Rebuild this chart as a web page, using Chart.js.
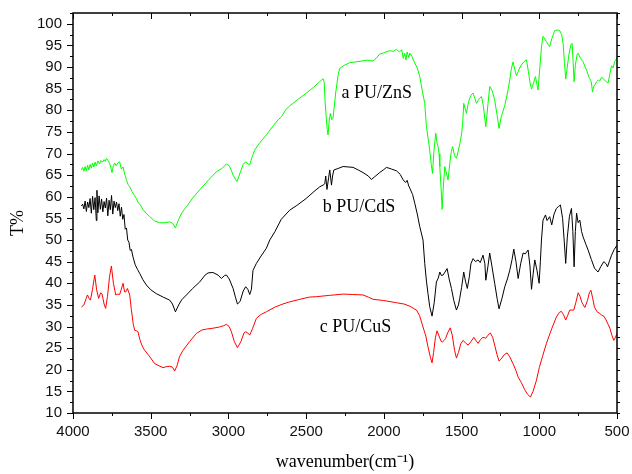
<!DOCTYPE html>
<html>
<head>
<meta charset="utf-8">
<script src="https://cdn.jsdelivr.net/npm/chart.js@4"></script>
<style>
  body { margin: 0; background: #fff; }
  #wrap { width: 632px; height: 474px; }
</style>
</head>
<body>
<div id="wrap"><canvas id="ir-chart" width="632" height="474"></canvas></div>
<script>
// wavenumber (cm-1) and T% for each sample
const znsWave = [3946, 3938, 3930, 3922, 3914, 3906, 3898, 3890, 3882, 3874, 3866, 3858, 3850, 3840, 3830, 3820, 3810, 3800, 3792, 3785, 3775, 3765, 3757, 3749, 3742, 3732, 3722, 3710, 3700, 3689, 3678, 3667, 3655, 3645, 3635, 3620, 3605, 3592, 3580, 3570, 3549, 3530, 3506, 3475, 3442, 3410, 3378, 3360, 3341, 3320, 3300, 3270, 3230, 3185, 3130, 3077, 3040, 3013, 2995, 2980, 2970, 2945, 2925, 2905, 2889, 2875, 2863, 2845, 2831, 2800, 2756, 2710, 2680, 2659, 2630, 2606, 2550, 2498, 2450, 2413, 2391, 2384, 2378, 2370, 2364, 2359, 2352, 2344, 2336, 2327, 2310, 2295, 2284, 2250, 2220, 2160, 2110, 2091, 2070, 2050, 2027, 2000, 1962, 1940, 1919, 1900, 1885, 1875, 1866, 1858, 1850, 1840, 1833, 1820, 1801, 1785, 1769, 1760, 1750, 1737, 1726, 1715, 1705, 1695, 1687, 1678, 1666, 1658, 1651, 1645, 1640, 1632, 1625, 1618, 1608, 1598, 1587, 1575, 1566, 1558, 1545, 1533, 1520, 1510, 1500, 1493, 1486, 1478, 1469, 1455, 1440, 1426, 1415, 1404, 1390, 1372, 1360, 1344, 1330, 1319, 1303, 1287, 1272, 1259, 1245, 1222, 1205, 1190, 1180, 1169, 1158, 1147, 1130, 1115, 1100, 1083, 1070, 1060, 1050, 1035, 1025, 1015, 1008, 995, 985, 976, 965, 954, 943, 933, 920, 901, 885, 868, 856, 847, 838, 830, 820, 808, 796, 789, 782, 776, 768, 756, 750, 735, 718, 705, 696, 680, 668, 664, 658, 650, 640, 632, 620, 610, 600, 590, 575, 557, 548, 540, 535, 525, 515, 500];
const znsT = [66.2, 66.8, 65.9, 67.0, 66.0, 67.3, 66.2, 67.5, 66.6, 67.8, 66.9, 68.0, 67.2, 68.3, 67.6, 68.4, 68.0, 68.6, 68.2, 68.9, 68.4, 67.8, 66.8, 65.6, 66.9, 67.8, 67.2, 67.9, 68.1, 66.4, 66.9, 65.2, 63.8, 62.8, 62.3, 61.2, 60.3, 59.6, 58.6, 58.3, 57.0, 56.2, 55.4, 54.4, 54.0, 54.0, 54.2, 53.9, 52.8, 54.8, 56.3, 57.7, 59.7, 61.6, 63.8, 65.8, 66.6, 67.6, 67.2, 66.0, 65.0, 63.5, 65.5, 67.5, 68.1, 67.6, 67.4, 69.5, 70.8, 72.4, 74.3, 76.5, 77.8, 78.5, 80.2, 81.0, 82.6, 84.0, 85.4, 86.6, 87.3, 86.5, 82.0, 78.0, 75.5, 74.3, 77.5, 79.3, 77.8, 78.2, 84.0, 88.0, 89.7, 90.5, 91.0, 91.3, 91.6, 91.5, 91.4, 92.0, 93.0, 93.3, 93.8, 93.6, 94.1, 93.5, 94.0, 92.0, 93.2, 91.6, 93.5, 92.2, 93.2, 92.5, 90.9, 89.8, 87.8, 86.0, 84.0, 81.6, 76.2, 73.5, 70.8, 67.5, 65.4, 70.5, 74.7, 72.5, 71.6, 70.0, 67.0, 62.0, 57.1, 62.0, 67.0, 65.5, 63.9, 68.0, 70.5, 71.6, 69.5, 68.9, 70.8, 72.5, 74.5, 77.0, 81.6, 80.5, 79.3, 82.0, 83.5, 84.0, 82.8, 81.6, 82.5, 83.2, 81.0, 76.2, 81.5, 85.5, 84.5, 82.4, 79.0, 75.8, 78.5, 81.1, 84.0, 87.0, 89.5, 91.2, 89.5, 88.0, 89.5, 90.5, 91.2, 91.7, 89.0, 86.5, 84.9, 86.5, 87.8, 86.0, 84.7, 90.5, 95.0, 97.1, 96.5, 95.9, 95.2, 94.7, 96.5, 98.4, 98.6, 98.4, 97.5, 95.5, 91.0, 87.2, 90.0, 93.2, 95.2, 95.5, 91.0, 86.6, 90.5, 93.0, 93.2, 92.0, 91.2, 90.0, 89.3, 87.6, 86.8, 86.3, 84.2, 85.5, 86.0, 86.6, 87.0, 86.8, 87.6, 87.4, 86.8, 86.3, 88.0, 89.5, 90.3, 89.8, 91.3, 92.1];

const cdsWave = [3946, 3938, 3930, 3922, 3914, 3906, 3898, 3890, 3882, 3874, 3866, 3858, 3850, 3846, 3840, 3832, 3824, 3816, 3808, 3800, 3792, 3784, 3776, 3768, 3760, 3752, 3744, 3736, 3728, 3720, 3712, 3704, 3696, 3688, 3680, 3672, 3664, 3656, 3648, 3640, 3632, 3624, 3614, 3600, 3585, 3571, 3550, 3528, 3500, 3464, 3420, 3378, 3360, 3341, 3320, 3300, 3270, 3230, 3185, 3150, 3131, 3100, 3067, 3045, 3025, 3013, 2995, 2970, 2955, 2942, 2925, 2905, 2889, 2875, 2863, 2852, 2842, 2820, 2790, 2756, 2734, 2700, 2660, 2606, 2560, 2500, 2450, 2413, 2391, 2380, 2374, 2366, 2355, 2348, 2337, 2330, 2322, 2290, 2262, 2230, 2198, 2165, 2134, 2100, 2080, 2060, 2027, 2000, 1983, 1950, 1919, 1895, 1876, 1860, 1850, 1840, 1833, 1815, 1801, 1785, 1769, 1748, 1737, 1726, 1716, 1705, 1690, 1676, 1662, 1650, 1640, 1630, 1619, 1610, 1593, 1580, 1565, 1550, 1533, 1520, 1512, 1500, 1486, 1475, 1463, 1450, 1440, 1426, 1410, 1394, 1380, 1362, 1350, 1344, 1330, 1319, 1305, 1287, 1270, 1259, 1240, 1222, 1205, 1190, 1175, 1164, 1150, 1136, 1120, 1104, 1090, 1072, 1060, 1050, 1040, 1029, 1015, 1001, 993, 986, 976, 960, 950, 933, 920, 905, 890, 875, 864, 850, 840, 830, 820, 806, 793, 784, 776, 768, 760, 750, 739, 728, 718, 700, 686, 665, 645, 622, 605, 585, 570, 561, 548, 535, 518, 500];
const cdsT = [57.9, 58.3, 57.2, 59.0, 56.6, 58.8, 57.5, 59.6, 56.2, 60.1, 57.0, 59.8, 54.5, 61.5, 56.3, 60.2, 57.1, 59.5, 56.5, 58.9, 57.4, 59.7, 55.6, 59.2, 57.0, 60.3, 56.0, 59.0, 57.5, 58.8, 56.8, 58.4, 55.5, 57.6, 54.8, 55.9, 52.5, 52.8, 50.0, 49.5, 47.6, 47.8, 46.1, 44.3, 43.2, 42.3, 40.8, 39.6, 38.5, 37.6, 36.8, 36.1, 35.2, 33.4, 35.0, 36.2, 37.3, 38.8, 40.3, 41.9, 42.4, 42.5, 41.9, 41.1, 41.8, 41.9, 41.0, 38.8, 36.8, 35.2, 35.8, 38.2, 39.2, 38.6, 37.4, 38.6, 43.0, 44.6, 46.3, 48.1, 50.0, 52.0, 54.8, 56.9, 58.0, 59.6, 61.2, 62.3, 62.7, 63.0, 64.8, 61.7, 64.5, 66.2, 62.7, 64.8, 66.2, 66.6, 67.0, 66.9, 66.8, 66.2, 65.6, 64.8, 64.0, 64.6, 65.6, 66.3, 66.8, 66.4, 66.0, 65.2, 63.9, 63.3, 63.8, 62.5, 62.0, 60.5, 58.5, 56.0, 53.1, 50.0, 44.6, 40.5, 37.6, 34.6, 32.4, 35.5, 40.3, 41.2, 42.6, 41.8, 41.9, 42.4, 43.4, 41.0, 38.8, 36.0, 33.8, 35.0, 36.5, 39.0, 42.6, 40.5, 38.8, 41.5, 44.5, 45.7, 45.0, 45.4, 44.8, 46.5, 44.5, 40.7, 44.0, 47.0, 44.0, 40.0, 36.2, 34.1, 36.5, 39.2, 41.0, 43.0, 45.5, 47.9, 45.0, 41.1, 44.5, 47.0, 46.8, 47.7, 44.0, 38.6, 42.0, 45.4, 43.0, 40.0, 45.0, 50.0, 54.6, 55.8, 54.5, 55.4, 53.5, 56.0, 57.3, 57.8, 58.1, 55.0, 50.0, 44.6, 50.5, 55.5, 57.3, 52.0, 43.8, 52.0, 56.2, 54.0, 54.6, 52.0, 50.7, 49.0, 47.7, 45.5, 43.5, 42.6, 43.8, 45.0, 44.5, 43.8, 45.2, 46.5, 47.8, 48.8];

const cusWave = [3946, 3930, 3915, 3907, 3895, 3888, 3875, 3860, 3848, 3835, 3822, 3813, 3800, 3790, 3778, 3765, 3753, 3740, 3725, 3712, 3700, 3690, 3678, 3668, 3661, 3650, 3635, 3625, 3612, 3603, 3590, 3582, 3570, 3555, 3539, 3510, 3474, 3440, 3421, 3400, 3378, 3360, 3346, 3330, 3315, 3292, 3250, 3206, 3170, 3142, 3100, 3056, 3030, 3013, 2995, 2981, 2962, 2942, 2920, 2900, 2889, 2875, 2863, 2845, 2820, 2790, 2756, 2700, 2650, 2606, 2550, 2480, 2434, 2350, 2262, 2200, 2134, 2100, 2070, 2000, 1919, 1870, 1833, 1800, 1790, 1770, 1748, 1730, 1716, 1700, 1690, 1680, 1668, 1658, 1645, 1632, 1624, 1612, 1603, 1590, 1573, 1560, 1545, 1533, 1520, 1505, 1490, 1475, 1458, 1440, 1421, 1408, 1394, 1378, 1362, 1344, 1330, 1315, 1300, 1287, 1272, 1259, 1245, 1225, 1207, 1190, 1169, 1150, 1136, 1115, 1094, 1075, 1057, 1040, 1018, 1000, 980, 954, 920, 890, 870, 858, 845, 830, 818, 804, 790, 778, 765, 750, 738, 725, 707, 690, 678, 668, 658, 645, 628, 610, 598, 585, 570, 557, 545, 533, 521, 510, 500];
const cusT = [34.5, 35.0, 36.5, 37.3, 36.4, 36.1, 38.5, 41.9, 38.5, 36.5, 37.8, 37.5, 35.2, 34.2, 37.0, 41.5, 44.0, 40.0, 37.3, 37.5, 37.4, 38.5, 40.0, 38.0, 38.0, 38.8, 37.3, 34.0, 30.5, 29.1, 29.0, 28.8, 27.0, 25.5, 24.5, 23.2, 21.4, 20.8, 20.5, 20.7, 20.8, 20.6, 19.7, 21.0, 23.0, 24.5, 26.5, 28.4, 29.2, 29.4, 29.6, 29.9, 30.2, 30.5, 30.0, 28.8, 26.5, 25.1, 26.5, 28.5, 28.8, 28.5, 28.0, 29.5, 31.9, 32.8, 33.4, 34.5, 35.2, 35.7, 36.2, 36.8, 36.9, 37.2, 37.5, 37.4, 37.3, 36.8, 36.3, 36.0, 35.5, 35.2, 34.7, 34.0, 33.8, 32.5, 29.9, 27.8, 25.3, 22.8, 21.6, 24.0, 27.5, 29.0, 27.8, 26.6, 26.4, 26.8, 27.2, 28.5, 29.7, 28.0, 24.5, 22.7, 24.0, 26.0, 26.8, 26.2, 25.7, 26.5, 27.5, 26.8, 26.1, 27.0, 27.5, 27.3, 28.0, 28.5, 27.5, 25.7, 23.5, 22.0, 22.5, 23.5, 23.9, 23.0, 21.4, 19.8, 18.3, 17.0, 15.4, 14.3, 13.7, 15.0, 17.6, 20.5, 23.0, 26.1, 29.5, 32.2, 33.3, 33.5, 32.8, 31.5, 32.5, 33.8, 33.8, 33.8, 35.5, 37.8, 37.0, 35.5, 34.4, 36.0, 37.8, 38.4, 36.8, 34.5, 33.4, 33.0, 32.6, 32.4, 31.5, 30.5, 29.5, 28.0, 26.8, 27.5, 28.4];

// tick labels
const xTicks = [4000, 3500, 3000, 2500, 2000, 1500, 1000, 500];
const yTicks = [10, 15, 20, 25, 30, 35, 40, 45, 50, 55, 60, 65, 70, 75, 80, 85, 90, 95, 100];

// curve labels: text, wavenumber of left edge, T% of text middle
const labelText = ["a PU/ZnS", "b PU/CdS", "c PU/CuS"];
const labelWave = [2273, 2393, 2413];
const labelT = [84.0, 57.6, 29.8];

const toPoints = (xs, ys) => xs.map((v, i) => ({ x: v, y: ys[i] }));

// frame + Origin style ticks (minor ticks too), curve labels, y title
const frameTicks = {
  id: "frameTicks",
  afterDraw(chart) {
    const { ctx, chartArea: a, scales } = chart;
    const x = scales.x, y = scales.y;
    ctx.save();
    ctx.strokeStyle = "#000";
    ctx.lineWidth = 1;
    ctx.beginPath();
    for (let v = 500; v <= 4000; v += 250) {
      const px = Math.round(x.getPixelForValue(v)) + 0.5;
      const len = v % 500 === 0 ? 6 : 3;
      ctx.moveTo(px, a.bottom); ctx.lineTo(px, a.bottom + len);
      ctx.moveTo(px, a.top); ctx.lineTo(px, a.top + len);
    }
    for (let v = 10; v <= 102.5; v += 2.5) {
      const py = Math.round(y.getPixelForValue(v)) + 0.5;
      const len = v % 5 === 0 ? 6 : 3;
      ctx.moveTo(a.left, py); ctx.lineTo(a.left - len, py);
      ctx.moveTo(a.right, py); ctx.lineTo(a.right + 3, py);
    }
    ctx.stroke();
    ctx.lineWidth = 1.5;
    ctx.strokeRect(a.left, a.top, a.right - a.left, a.bottom - a.top);

    ctx.fillStyle = "#000";
    ctx.font = "18px 'Liberation Serif'";
    ctx.textAlign = "left";
    ctx.textBaseline = "middle";
    labelText.forEach((t, i) => {
      ctx.fillText(t, x.getPixelForValue(labelWave[i]), y.getPixelForValue(labelT[i]));
    });

    // y title sits a bit below the axis middle in the original
    ctx.translate(18, (a.top + a.bottom) / 2 + 10);
    ctx.rotate(-Math.PI / 2);
    ctx.textAlign = "center";
    ctx.fillText("T%", 0, 0);
    ctx.restore();
  }
};

const tickFont = { family: "'Liberation Sans'", size: 15 };

new Chart(document.getElementById("ir-chart"), {
  type: "line",
  data: {
    datasets: [
      { label: "a PU/ZnS", data: toPoints(znsWave, znsT), borderColor: "#00ff00" },
      { label: "b PU/CdS", data: toPoints(cdsWave, cdsT), borderColor: "#000000" },
      { label: "c PU/CuS", data: toPoints(cusWave, cusT), borderColor: "#ff0000" }
    ]
  },
  options: {
    responsive: false,
    animation: false,
    devicePixelRatio: 1,
    layout: { padding: { top: 13, right: 15, left: 0, bottom: 0 } },
    elements: {
      line: { borderWidth: 1, tension: 0 },
      point: { radius: 0 }
    },
    plugins: {
      legend: { display: false },
      tooltip: { enabled: false }
    },
    scales: {
      x: {
        type: "linear",
        reverse: true,
        min: 500,
        max: 4000,
        grid: { display: false, drawTicks: false },
        border: { display: false },
        afterBuildTicks(s) { s.ticks = xTicks.map(v => ({ value: v })); },
        ticks: { color: "#111", font: tickFont, padding: 10, maxRotation: 0, autoSkip: false,
                 callback: v => String(v) },
        title: {
          display: true,
          text: "wavenumber(cm\u207B\u00B9)",
          color: "#000",
          font: { family: "'Liberation Serif'", size: 18 },
          padding: { top: 0, bottom: 1 }
        },
        afterFit(s) { s.height = 61; s.paddingLeft = 0; s.paddingRight = 0; }
      },
      y: {
        min: 10,
        max: 102.5,
        grid: { display: false, drawTicks: false },
        border: { display: false },
        afterBuildTicks(s) { s.ticks = yTicks.map(v => ({ value: v })); },
        ticks: { color: "#111", font: tickFont, padding: 11, autoSkip: false,
                 callback: v => String(v) },
        afterFit(s) { s.width = 73; s.paddingTop = 0; s.paddingBottom = 0; }
      }
    }
  },
  plugins: [frameTicks]
});
</script>
</body>
</html>
